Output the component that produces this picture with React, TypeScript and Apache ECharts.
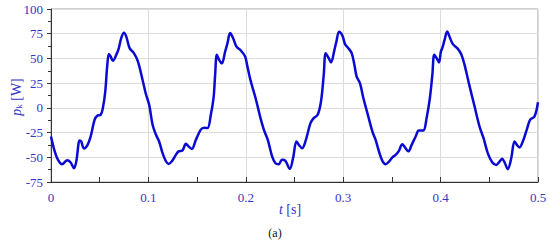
import React, { useEffect, useRef } from "react";
import * as echarts from "echarts";

const timeS: number[] = [
  0, 0.0038, 0.0072, 0.0113, 0.0167, 0.02, 0.0236, 0.026, 0.0294, 0.031, 0.0338, 0.0373, 0.0407, 0.0448, 0.0475, 0.051,
  0.0533, 0.0557, 0.0578, 0.0595, 0.0612, 0.0636, 0.067, 0.0694, 0.0721, 0.0749, 0.0773, 0.0807, 0.0851, 0.0892, 0.0944,
  0.0974, 0.1008, 0.1043, 0.1077, 0.111, 0.1146, 0.118, 0.1207, 0.1241, 0.1282, 0.131, 0.135, 0.1385, 0.1412, 0.1446,
  0.1487, 0.1538, 0.1572, 0.1607, 0.1641, 0.1669, 0.1685, 0.1703, 0.1726, 0.1754, 0.1788, 0.1812, 0.1839, 0.187, 0.1904,
  0.1949, 0.1993, 0.2013, 0.2048, 0.21, 0.2151, 0.2185, 0.2226, 0.227, 0.2305, 0.2338, 0.2372, 0.2407, 0.2451, 0.2485,
  0.252, 0.2544, 0.2578, 0.2612, 0.2664, 0.2697, 0.2738, 0.2772, 0.28, 0.2821, 0.2851, 0.2875, 0.291, 0.293, 0.2958,
  0.2992, 0.3019, 0.3053, 0.3087, 0.3115, 0.3138, 0.3172, 0.3207, 0.3258, 0.33, 0.3333, 0.3367, 0.3402, 0.3436, 0.347,
  0.3505, 0.3538, 0.3572, 0.3607, 0.3634, 0.3669, 0.3703, 0.3744, 0.3777, 0.3822, 0.3856, 0.389, 0.3915, 0.3935, 0.3959,
  0.3983, 0.4003, 0.4017, 0.4041, 0.4068, 0.4092, 0.4126, 0.4177, 0.4212, 0.4246, 0.429, 0.4349, 0.44, 0.4441, 0.4485,
  0.453, 0.4571, 0.4605, 0.4632, 0.4656, 0.469, 0.4725, 0.4759, 0.4783, 0.481, 0.4844, 0.4885, 0.492, 0.4964, 0.5,
];

const powerW: number[] = [
  -29, -44, -52.6, -57, -53, -55, -61, -54, -33, -34, -41, -38, -29, -12, -8, -7,
  0, 16.5, 43.5, 54.6, 52, 47.6, 53.6, 59.7, 70.5, 76, 72, 60.4, 55.3, 47, 26.6,
  14, 3, -17, -27, -34, -46, -54, -56.7, -54, -47.6, -44, -43, -36.4, -39, -41.5,
  -32.4, -22, -20, -20.5, -7, 10, 33, 53.6, 48.6, 45, 57, 65.5, 75.6, 70.5, 62,
  58, 52, 43.5, 28, 10, -10.4, -22, -32.4, -49, -56, -57, -52.6, -53.6, -61.7, -51,
  -34, -37.4, -40.8, -34, -15.5, -10.4, -7, 6.4, 33, 55.3, 50.3, 46, 58.7, 67, 77,
  73, 64.5, 60.4, 55.3, 43.5, 31.7, 25, 10, -8.8, -24, -32.4, -44, -53.6, -57, -54.3,
  -50, -47.6, -43.5, -36.7, -40, -44, -37.4, -29, -23, -23, -10.4, 10, 33, 53.6, 50.3,
  46, 57, 60.4, 68.8, 77.2, 72, 64.5, 59.7, 54.3, 43.5, 25, 1.3, -19, -30.7, -46,
  -55, -57.7, -54.3, -51.6, -55, -62, -51, -34, -37.4, -40, -34, -22, -12, -8.8, 5.7,
];

const xTicks = { min: 0, max: 0.5, interval: 0.1 };
const yTicks = { min: -75, max: 100, interval: 25 };

const labelBlue = "#3535c8";
const serif = "Liberation Serif";

export default function App() {
  const ref = useRef<HTMLDivElement>(null);
  useEffect(() => {
    if (!ref.current) return;
    const chart = echarts.init(ref.current, null, { renderer: "svg" });
    const data = timeS.map((t, i) => [t, powerW[i]]);
    chart.setOption({
      animation: false,
      backgroundColor: "#ffffff",
      textStyle: { fontFamily: serif },
      grid: {
        left: 51,
        right: 12,
        top: 9,
        bottom: 59,
        show: true,
        borderColor: "#a0a0a0",
        borderWidth: 1,
      },
      xAxis: {
        type: "value",
        min: xTicks.min,
        max: xTicks.max,
        interval: xTicks.interval,
        axisLine: { onZero: false, lineStyle: { color: "#333333", width: 1 } },
        axisTick: { inside: true, length: 5, lineStyle: { color: "#333333" } },
        minorTick: { show: true, splitNumber: 2, length: 5, lineStyle: { color: "#333333" } },
        splitLine: { show: true, lineStyle: { color: "#dcdcdc", width: 1 } },
        axisLabel: {
          color: labelBlue,
          fontFamily: serif,
          fontSize: 13,
          margin: 9,
          formatter: (v: number) => (v === 0 ? "0" : String(Number(v.toFixed(2)))),
        },
      },
      yAxis: {
        type: "value",
        min: yTicks.min,
        max: yTicks.max,
        interval: yTicks.interval,
        axisLine: { show: true, onZero: false, lineStyle: { color: "#333333", width: 1 } },
        axisTick: { show: true, inside: false, length: 4, lineStyle: { color: "#333333" } },
        minorTick: { show: true, splitNumber: 2, length: 3, lineStyle: { color: "#333333" } },
        splitLine: { show: true, lineStyle: { color: "#dcdcdc", width: 1 } },
        axisLabel: {
          color: labelBlue,
          fontFamily: serif,
          fontSize: 13,
          margin: 8,
        },
      },
      graphic: [
        {
          type: "text",
          x: 16,
          y: 97,
          rotation: Math.PI / 2,
          style: {
            text: "{i|p}{s|k} [W]",
            textAlign: "center",
            textVerticalAlign: "middle",
            fill: labelBlue,
            fontFamily: serif,
            fontSize: 14,
            rich: {
              i: { fontStyle: "italic", fontFamily: serif, fontSize: 14, fill: labelBlue },
              s: { fontFamily: serif, fontSize: 9, fill: labelBlue, verticalAlign: "bottom", padding: [6, 0, 0, 0] },
            },
          },
        },
        {
          type: "text",
          x: 290,
          y: 209,
          style: {
            text: "{i|t} [s]",
            textAlign: "center",
            textVerticalAlign: "middle",
            fill: labelBlue,
            fontFamily: serif,
            fontSize: 14,
            rich: {
              i: { fontStyle: "italic", fontFamily: serif, fontSize: 14, fill: labelBlue },
            },
          },
        },
        {
          type: "text",
          x: 275,
          y: 233,
          style: {
            text: "(a)",
            textAlign: "center",
            textVerticalAlign: "middle",
            fill: "#111111",
            fontFamily: serif,
            fontSize: 12,
          },
        },
      ],
      series: [
        {
          type: "line",
          data,
          smooth: 0.35,
          showSymbol: false,
          lineStyle: { color: "#0a0ad2", width: 2.5 },
          z: 5,
        },
      ],
    });
    return () => chart.dispose();
  }, []);
  return (
    <div
      ref={ref}
      style={{ position: "absolute", left: 0, top: 0, width: 550, height: 241 }}
    />
  );
}
